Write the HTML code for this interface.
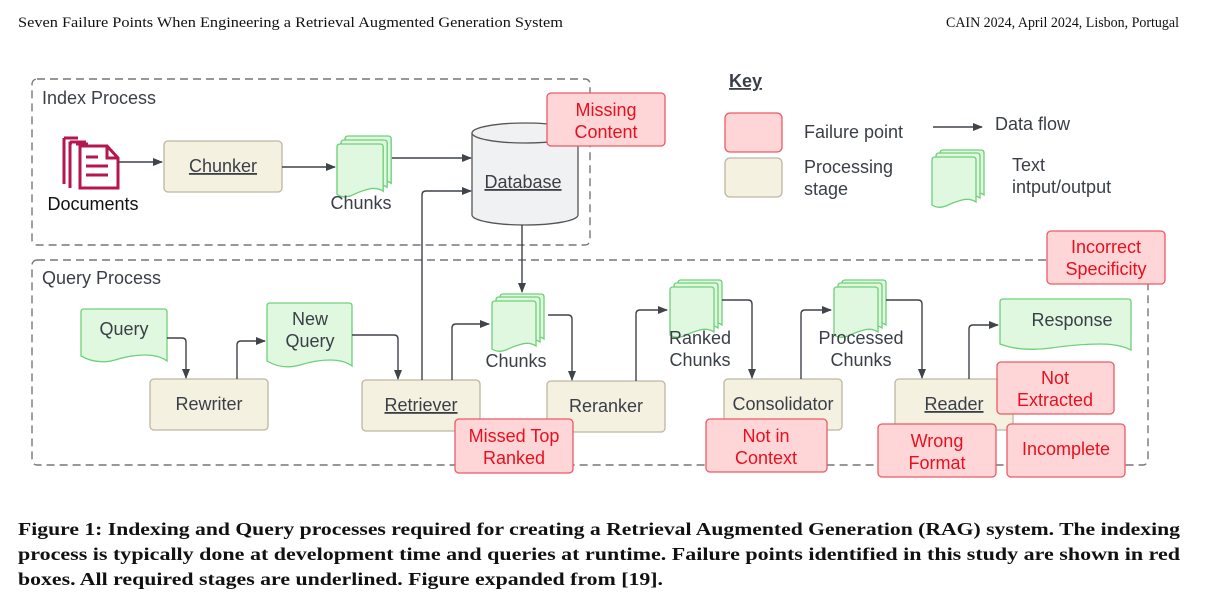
<!DOCTYPE html>
<html><head><meta charset="utf-8"><style>
html,body{margin:0;padding:0;background:#fff;}
svg{display:block;}
.t{font-family:"Liberation Sans",sans-serif;font-size:18px;fill:#3a3f47;}
.r{font-family:"Liberation Sans",sans-serif;font-size:18px;fill:#e8101e;}
.p{fill:#f5f1e1;stroke:#bdb6a2;stroke-width:1.3;}
.f{fill:#ffd6d8;stroke:#ec5a63;stroke-width:1.3;}
.d{fill:#e0f8e0;stroke:#6fd07a;stroke-width:1.3;}
.ln{fill:none;stroke:#3f434a;stroke-width:1.4;}
.dash{fill:none;stroke:#777;stroke-width:1.4;stroke-dasharray:8 5;}
.cap{font-family:"Liberation Serif",serif;font-weight:bold;font-size:18px;fill:#111;}
.hd{font-family:"Liberation Serif",serif;font-size:15px;fill:#111;}
</style></head><body>
<svg width="1210" height="597" viewBox="0 0 1210 597" xmlns="http://www.w3.org/2000/svg">
<defs>
<marker id="a" markerWidth="10" markerHeight="10" refX="9" refY="5" orient="auto" markerUnits="userSpaceOnUse">
<path d="M0,1 L10,5 L0,9 z" fill="#3f434a"/></marker>
<path id="doc" d="M0,3 q0,-3 3,-3 h38 q3,0 3,3 v42 q-6,-4 -14,-2 q-8,2 -16,6 q-8,3 -14,-1 z"/>
</defs>

<text class="hd" x="18" y="27" textLength="545" lengthAdjust="spacingAndGlyphs">Seven Failure Points When Engineering a Retrieval Augmented Generation System</text>
<text class="hd" x="946" y="27" textLength="233" lengthAdjust="spacingAndGlyphs">CAIN 2024, April 2024, Lisbon, Portugal</text>

<rect class="dash" x="32" y="79" width="558" height="166" rx="5"/>
<rect class="dash" x="32" y="260" width="1116" height="205" rx="5"/>
<text class="t" x="42" y="104">Index Process</text>
<text class="t" x="42" y="284">Query Process</text>

<g fill="none" stroke="#b5164f" stroke-width="3">
<path d="M64,138 v46 M64,138 h14 M72,143 h-2 v45 M80,146 v42 h38 v-30 l-11,-12 z M107,146 v12 h11 M86,157 h12 M86,166 h22 M86,175 h22"/>
<path d="M70,142 h16 M76,144 h12"/>
</g>
<text class="t" x="93" y="210" text-anchor="middle" style="fill:#111">Documents</text>

<rect class="p" x="164" y="141" width="118" height="51" rx="4"/>
<text class="t" x="223" y="172" text-anchor="middle" text-decoration="underline">Chunker</text>

<g class="d"><use href="#doc" transform="translate(345,136) scale(1.05)"/><use href="#doc" transform="translate(341,140) scale(1.05)"/><use href="#doc" transform="translate(337,144) scale(1.05)"/></g>
<text class="t" x="361" y="209" text-anchor="middle">Chunks</text>

<path d="M472,133 v82 a53,10 0 0 0 106,0 v-82" fill="#f0f1f3" stroke="#555" stroke-width="1.3"/>
<ellipse cx="525" cy="133" rx="53" ry="10" fill="#f0f1f3" stroke="#555" stroke-width="1.3"/>
<text class="t" x="523" y="188" text-anchor="middle" text-decoration="underline">Database</text>

<rect class="f" x="547" y="93" width="118" height="53" rx="4"/>
<text class="r" x="606" y="116" text-anchor="middle">Missing</text>
<text class="r" x="606" y="138" text-anchor="middle">Content</text>

<text class="t" x="729" y="87" font-weight="bold" text-decoration="underline">Key</text>
<rect class="f" x="725" y="113" width="57" height="39" rx="5"/>
<rect class="p" x="725" y="158" width="57" height="39" rx="5"/>
<text class="t" x="804" y="138">Failure point</text>
<text class="t" x="804" y="173">Processing</text>
<text class="t" x="804" y="195">stage</text>
<line class="ln" x1="933" y1="127" x2="982" y2="127" marker-end="url(#a)"/>
<text class="t" x="995" y="130">Data flow</text>
<g class="d"><use href="#doc" transform="translate(940,150)"/><use href="#doc" transform="translate(936,153)"/><use href="#doc" transform="translate(932,157)"/></g>
<text class="t" x="1012" y="171">Text</text>
<text class="t" x="1012" y="193">intput/output</text>

<path class="d" d="M81,312 q0,-3 3,-3 h80 q3,0 3,3 v49 q-8,-6 -22,-6 q-14,0 -30,5 q-18,5 -34,-4 z"/>
<text class="t" x="124" y="335" text-anchor="middle">Query</text>
<rect class="p" x="150" y="379" width="118" height="51" rx="4"/>
<text class="t" x="209" y="410" text-anchor="middle">Rewriter</text>
<path class="d" d="M267,306 q0,-3 3,-3 h79 q3,0 3,3 v60 q-8,-6 -22,-6 q-14,0 -30,5 q-18,5 -33,-4 z"/>
<text class="t" x="310" y="325" text-anchor="middle">New</text>
<text class="t" x="310" y="347" text-anchor="middle">Query</text>
<rect class="p" x="362" y="380" width="118" height="51" rx="4"/>
<text class="t" x="421" y="411" text-anchor="middle" text-decoration="underline">Retriever</text>

<g class="d"><use href="#doc" transform="translate(500,294)"/><use href="#doc" transform="translate(496,297)"/><use href="#doc" transform="translate(492,301)"/></g>
<text class="t" x="516" y="367" text-anchor="middle">Chunks</text>
<rect class="p" x="547" y="381" width="118" height="51" rx="4"/>
<text class="t" x="606" y="412" text-anchor="middle">Reranker</text>

<g class="d"><use href="#doc" transform="translate(678,280)"/><use href="#doc" transform="translate(674,283)"/><use href="#doc" transform="translate(670,287)"/></g>
<text class="t" x="700" y="344" text-anchor="middle">Ranked</text>
<text class="t" x="700" y="366" text-anchor="middle">Chunks</text>
<rect class="p" x="724" y="379" width="118" height="51" rx="4"/>
<text class="t" x="783" y="410" text-anchor="middle">Consolidator</text>

<g class="d"><use href="#doc" transform="translate(842,280)"/><use href="#doc" transform="translate(838,283)"/><use href="#doc" transform="translate(834,287)"/></g>
<text class="t" x="861" y="344" text-anchor="middle">Processed</text>
<text class="t" x="861" y="366" text-anchor="middle">Chunks</text>
<rect class="p" x="895" y="379" width="118" height="51" rx="4"/>
<text class="t" x="954" y="410" text-anchor="middle" text-decoration="underline">Reader</text>

<path class="d" d="M1000,302 q0,-3 3,-3 h125 q3,0 3,3 v48 q-12,-6 -30,-6 q-22,0 -50,4 q-30,4 -51,-4 z"/>
<text class="t" x="1072" y="326" text-anchor="middle">Response</text>

<line class="ln" x1="118" y1="162" x2="162" y2="162" marker-end="url(#a)"/>
<line class="ln" x1="282" y1="167" x2="335" y2="167" marker-end="url(#a)"/>
<line class="ln" x1="392" y1="158" x2="471" y2="158" marker-end="url(#a)"/>
<path class="ln" d="M422,380 V195 q0,-4 4,-4 H471" marker-end="url(#a)"/>
<line class="ln" x1="522" y1="225" x2="522" y2="292" marker-end="url(#a)"/>
<path class="ln" d="M167,338 h15 q4,0 4,4 V378" marker-end="url(#a)"/>
<path class="ln" d="M237,379 V345 q0,-4 4,-4 H265" marker-end="url(#a)"/>
<path class="ln" d="M352,335 h42 q4,0 4,4 V379" marker-end="url(#a)"/>
<path class="ln" d="M452,380 V328 q0,-4 4,-4 H489" marker-end="url(#a)"/>
<path class="ln" d="M548,315 h20 q4,0 4,4 V380" marker-end="url(#a)"/>
<path class="ln" d="M636,381 V314 q0,-4 4,-4 H667" marker-end="url(#a)"/>
<path class="ln" d="M722,300 h26 q4,0 4,4 V378" marker-end="url(#a)"/>
<path class="ln" d="M801,379 V314 q0,-4 4,-4 H831" marker-end="url(#a)"/>
<path class="ln" d="M886,300 h32 q4,0 4,4 V378" marker-end="url(#a)"/>
<path class="ln" d="M969,379 V329 q0,-4 4,-4 H998" marker-end="url(#a)"/>

<rect class="f" x="455" y="419" width="118" height="54" rx="4"/>
<text class="r" x="514" y="442" text-anchor="middle">Missed Top</text>
<text class="r" x="514" y="464" text-anchor="middle">Ranked</text>
<rect class="f" x="706" y="419" width="121" height="53" rx="4"/>
<text class="r" x="766" y="442" text-anchor="middle">Not in</text>
<text class="r" x="766" y="464" text-anchor="middle">Context</text>
<rect class="f" x="997" y="362" width="117" height="52" rx="4"/>
<text class="r" x="1055" y="384" text-anchor="middle">Not</text>
<text class="r" x="1055" y="406" text-anchor="middle">Extracted</text>
<rect class="f" x="878" y="424" width="118" height="53" rx="4"/>
<text class="r" x="937" y="447" text-anchor="middle">Wrong</text>
<text class="r" x="937" y="469" text-anchor="middle">Format</text>
<rect class="f" x="1007" y="424" width="118" height="53" rx="4"/>
<text class="r" x="1066" y="455" text-anchor="middle">Incomplete</text>
<rect class="f" x="1047" y="231" width="118" height="53" rx="4"/>
<text class="r" x="1106" y="253" text-anchor="middle">Incorrect</text>
<text class="r" x="1106" y="275" text-anchor="middle">Specificity</text>

<text class="cap" x="18" y="535" textLength="1162" lengthAdjust="spacingAndGlyphs">Figure 1: Indexing and Query processes required for creating a Retrieval Augmented Generation (RAG) system. The indexing</text>
<text class="cap" x="18" y="560" textLength="1162" lengthAdjust="spacingAndGlyphs">process is typically done at development time and queries at runtime. Failure points identified in this study are shown in red</text>
<text class="cap" x="18" y="585" textLength="645" lengthAdjust="spacingAndGlyphs">boxes. All required stages are underlined. Figure expanded from [19].</text>
</svg>
</body></html>
